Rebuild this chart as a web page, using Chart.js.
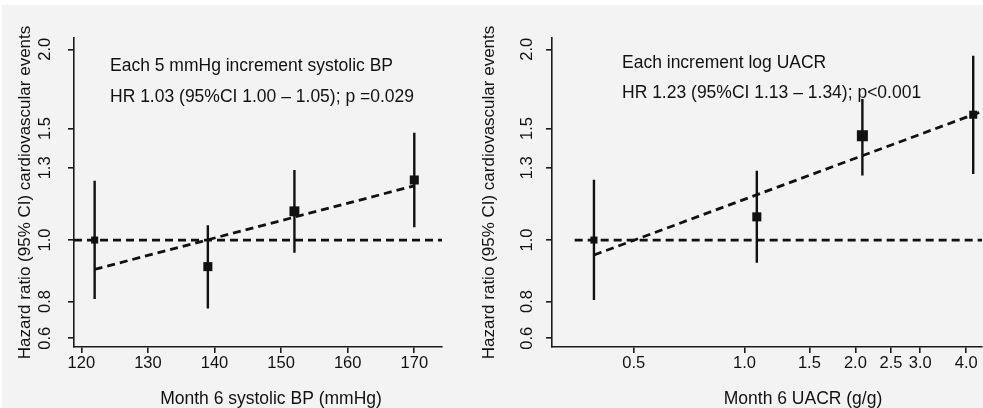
<!DOCTYPE html>
<html>
<head>
<meta charset="utf-8">
<script src="https://cdn.jsdelivr.net/npm/chart.js@4.4.1/dist/chart.umd.min.js"></script>
<style>
  html, body { margin: 0; padding: 0; background: #fff; }
  #wrap { position: relative; width: 983px; height: 408px; overflow: hidden; }
  #bg { position: absolute; left: 2px; top: 5px; right: 0; bottom: 0; background: #f3f3f3; }
  canvas { position: absolute; top: 0; }
  #bp { left: 0; }
  #uacr { left: 470px; }
</style>
</head>
<body>
<div id="wrap">
  <div id="bg"></div>
  <canvas id="bp" width="470" height="408"></canvas>
  <canvas id="uacr" width="513" height="408"></canvas>
</div>
<script>
// systolic BP groups
const bpX = [122, 139, 152, 170];
const bpHR = [1.00, 0.908, 1.11, 1.244];
const bpLo = [0.807, 0.78, 0.955, 1.048];
const bpHi = [1.24, 1.055, 1.29, 1.477];
const bpFitX = [122, 170];
const bpFitY = [0.899, 1.218];
const bpTicks = [120, 130, 140, 150, 160, 170];
const bpTickLabels = ['120', '130', '140', '150', '160', '170'];

// UACR groups
const uacrX = [0.39, 1.08, 2.09, 4.18];
const uacrHR = [1.00, 1.088, 1.461, 1.577];
const uacrLo = [0.804, 0.921, 1.265, 1.271];
const uacrHi = [1.245, 1.286, 1.67, 1.954];
const uacrFitX = [0.39, 4.34];
const uacrFitY = [0.947, 1.59];
const uacrTicks = [0.5, 1, 1.5, 2, 2.5, 3, 4];
const uacrTickLabels = ['0.5', '1.0', '1.5', '2.0', '2.5', '3.0', '4.0'];

// hazard ratio axis, shared by both panels
const hrTicks = [0.7, 0.8, 1.0, 1.3, 1.5, 2.0];
const hrTickLabels = ['0.6', '0.8', '1.0', '1.3', '1.5', '2.0'];

const FONT = '"Liberation Sans", Arial, Helvetica, sans-serif';
const INK = '#111';
Chart.defaults.font.family = FONT;
Chart.defaults.color = INK;

// notes inside the plot and the x axis title
const panelText = {
  id: 'panelText',
  afterDraw(chart, args, opts) {
    const ctx = chart.ctx;
    ctx.save();
    ctx.fillStyle = INK;
    ctx.font = '17.5px ' + FONT;
    ctx.textBaseline = 'alphabetic';
    ctx.textAlign = 'left';
    opts.notes.forEach(n => ctx.fillText(n.text, n.x, n.y));
    ctx.textAlign = 'center';
    ctx.fillText(opts.xTitle, opts.xTitleX, 404);
    ctx.restore();
  }
};

function panel(id, o) {
  const points = o.x.map((x, i) => ({ x, y: o.hr[i] }));
  const bars = o.x.flatMap((x, i) => [{ x, y: o.lo[i] }, { x, y: o.hi[i] }, { x, y: null }]);
  const fit = o.fitX.map((x, i) => ({ x, y: o.fitY[i] }));
  const ref = [{ x: o.xMin, y: 1 }, { x: o.xMax, y: 1 }];

  const axisLine = { display: true, color: '#1a1a1a', width: 1.6 };
  const tickGrid = { drawOnChartArea: false, drawTicks: true, tickLength: 6, color: '#1a1a1a', lineWidth: 1.6 };

  return new Chart(document.getElementById(id), {
    type: 'scatter',
    data: {
      datasets: [
        { data: bars, showLine: true, spanGaps: false, borderColor: INK, borderWidth: 2.4, pointRadius: 0 },
        { data: ref, showLine: true, borderColor: INK, borderWidth: 2.8, borderDash: [8, 5], pointRadius: 0 },
        { data: fit, showLine: true, borderColor: INK, borderWidth: 2.8, borderDash: [8, 5], pointRadius: 0 },
        { data: points, pointStyle: 'rect', pointRadius: o.markerRadius, pointBorderWidth: 0,
          pointBackgroundColor: INK, pointBorderColor: INK }
      ]
    },
    options: {
      responsive: false,
      animation: false,
      events: [],
      layout: { autoPadding: false, padding: { left: 0, top: 38, right: o.padRight, bottom: 0 } },
      plugins: {
        legend: { display: false },
        tooltip: { enabled: false },
        panelText: { notes: o.notes, xTitle: o.xTitle, xTitleX: o.xTitleX }
      },
      scales: {
        x: {
          type: o.xType,
          min: o.xMin,
          max: o.xMax,
          border: axisLine,
          grid: tickGrid,
          afterFit: s => { s.height = 61; },
          afterBuildTicks: s => { s.ticks = o.ticks.map(v => ({ value: v })); },
          ticks: {
            padding: 1,
            font: { size: 16.5 },
            color: INK,
            maxRotation: 0,
            autoSkip: false,
            callback: (v, i) => o.tickLabels[i]
          }
        },
        y: {
          type: 'logarithmic',
          min: 0.678,
          max: 2.084,
          border: axisLine,
          grid: tickGrid,
          afterFit: s => { s.width = o.yWidth; },
          afterBuildTicks: s => { s.ticks = hrTicks.map(v => ({ value: v })); },
          ticks: {
            minRotation: 90,
            maxRotation: 90,
            crossAlign: 'center',
            padding: o.yTickPad,
            font: { size: 16.5 },
            color: INK,
            autoSkip: false,
            callback: (v, i) => hrTickLabels[i]
          },
          title: {
            display: true,
            text: 'Hazard ratio (95% CI) cardiovascular events',
            font: { size: 17 },
            color: INK,
            padding: { top: o.yTitlePad, bottom: 0 }
          }
        }
      }
    },
    plugins: [panelText]
  });
}

panel('bp', {
  x: bpX, hr: bpHR, lo: bpLo, hi: bpHi, fitX: bpFitX, fitY: bpFitY,
  ticks: bpTicks, tickLabels: bpTickLabels,
  xType: 'linear', xMin: 118.9, xMax: 174.16,
  markerRadius: [5, 6.4, 7, 6.4],
  yWidth: 74, padRight: 28, yTickPad: 11, yTitlePad: 15,
  xTitle: 'Month 6 systolic BP (mmHg)', xTitleX: 271,
  notes: [
    { text: 'Each 5 mmHg increment systolic BP', x: 110, y: 71 },
    { text: 'HR 1.03 (95%CI 1.00 \u2013 1.05); p =0.029', x: 110, y: 102 }
  ]
});

panel('uacr', {
  x: uacrX, hr: uacrHR, lo: uacrLo, hi: uacrHi, fitX: uacrFitX, fitY: uacrFitY,
  ticks: uacrTicks, tickLabels: uacrTickLabels,
  xType: 'logarithmic', xMin: 0.3457, xMax: 4.416,
  markerRadius: [5, 6.4, 7.8, 5.7],
  yWidth: 82, padRight: 1, yTickPad: 7, yTitlePad: 9,
  xTitle: 'Month 6 UACR (g/g)', xTitleX: 333,
  notes: [
    { text: 'Each increment log UACR', x: 152, y: 68 },
    { text: 'HR 1.23 (95%CI 1.13 \u2013 1.34); p<0.001', x: 152, y: 98 }
  ]
});
</script>
</body>
</html>
